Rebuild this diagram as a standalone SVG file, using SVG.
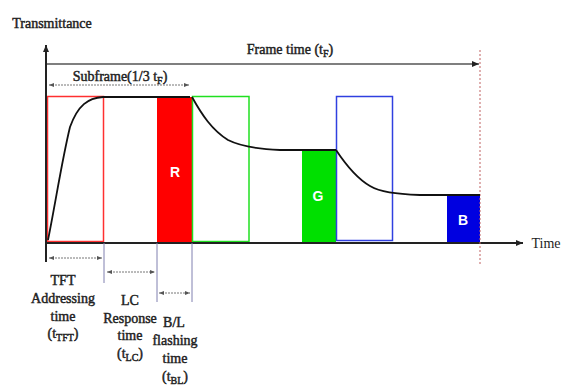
<svg xmlns="http://www.w3.org/2000/svg" width="565" height="391" viewBox="0 0 565 391">
<style>
.t{font-family:"Liberation Serif","Times New Roman",serif;font-weight:normal;fill:#222;stroke:#222;stroke-width:0.45;font-size:14px;text-anchor:middle}
.lbl{font-family:"Liberation Sans",sans-serif;font-weight:bold;fill:#fff;font-size:14px;text-anchor:middle}
.ax{stroke:#222;stroke-width:2;fill:none}
.dim{stroke:#777;stroke-width:1;fill:none;stroke-dasharray:2 1}
.tick{stroke:#8080b0;stroke-width:1}
.curve{stroke:#111;stroke-width:1.8;fill:none}
</style>
<defs>
<marker id="ah" markerWidth="8" markerHeight="8" refX="7" refY="4" orient="auto" markerUnits="userSpaceOnUse"><path d="M0,1 L7,4 L0,7 Z" fill="#222"/></marker>
<marker id="sa" markerWidth="6" markerHeight="6" refX="5" refY="3" orient="auto-start-reverse" markerUnits="userSpaceOnUse"><path d="M0,1 L5,3 L0,5 Z" fill="#555"/></marker>
</defs>
<rect width="565" height="391" fill="#fff"/>
<g id="fills">
<rect x="157" y="97" width="35" height="146" fill="#ff0000"/>
<rect x="302" y="150" width="34" height="93" fill="#00e000"/>
<rect x="447" y="195" width="33" height="48" fill="#0000e0"/>
</g>
<g id="outlines" fill="none" stroke-width="1.5">
<rect x="47.5" y="96.5" width="56" height="145" stroke="#ff3030"/>
<rect x="192.5" y="96.5" width="56.5" height="145" stroke="#20e020"/>
<rect x="336.5" y="96.5" width="56" height="144" stroke="#3040e0"/>
</g>
<g id="connectors">
<line x1="46" y1="262" x2="46" y2="45" class="ax" marker-end="url(#ah)"/>
<line x1="46" y1="243" x2="523" y2="243" class="ax" marker-end="url(#ah)"/>
<line x1="480" y1="50" x2="480" y2="266" stroke="#c06060" stroke-width="1" stroke-dasharray="2 2"/>
<line x1="47" y1="64" x2="479" y2="64" stroke="#555" stroke-width="1.5" marker-end="url(#ah)"/>
<line x1="49" y1="85" x2="189" y2="85" class="dim" marker-start="url(#sa)" marker-end="url(#sa)"/>
<path class="curve" d="M48,240 C56,200 62,160 70,127 C78,105 88,98 103,97 L190,97"/>
<path class="curve" d="M192,97 C202,115 212,130 228,140 C240,146 255,149 280,150 L336,150"/>
<path class="curve" d="M336,150 C346,165 356,178 370,186 C380,192 395,194 420,195 L480,195"/>
<line x1="104" y1="243" x2="104" y2="283" class="tick"/>
<line x1="157" y1="243" x2="157" y2="302" class="tick"/>
<line x1="192" y1="243" x2="192" y2="302" class="tick"/>
<line x1="49" y1="258" x2="102" y2="258" class="dim" marker-start="url(#sa)" marker-end="url(#sa)"/>
<line x1="107" y1="272" x2="155" y2="272" class="dim" marker-start="url(#sa)" marker-end="url(#sa)"/>
<line x1="159" y1="293" x2="190" y2="293" class="dim" marker-start="url(#sa)" marker-end="url(#sa)"/>
</g>
<g id="labels">
<text x="52" y="28" class="t" font-size="13">Transmittance</text>
<text x="290" y="54" class="t">Frame time (t<tspan font-size="10" dy="3">F</tspan><tspan dy="-3">)</tspan></text>
<text x="120" y="81" class="t">Subframe(1/3 t<tspan font-size="10" dy="3">F</tspan><tspan dy="-3">)</tspan></text>
<text x="175" y="177" class="lbl">R</text>
<text x="318" y="201" class="lbl">G</text>
<text x="463" y="225" class="lbl">B</text>
<text x="546" y="248" class="t" style="stroke-width:0">Time</text>
<text x="63" y="285" class="t">TFT</text>
<text x="63" y="303" class="t">Addressing</text>
<text x="63" y="321" class="t">time</text>
<text x="63" y="338" class="t">(t<tspan font-size="10" dy="3">TFT</tspan><tspan dy="-3">)</tspan></text>
<text x="130" y="305" class="t">LC</text>
<text x="130" y="323" class="t">Response</text>
<text x="130" y="340" class="t">time</text>
<text x="130" y="358" class="t">(t<tspan font-size="10" dy="3">LC</tspan><tspan dy="-3">)</tspan></text>
<text x="174" y="327" class="t">B/L</text>
<text x="175" y="345" class="t">flashing</text>
<text x="175" y="363" class="t">time</text>
<text x="175" y="381" class="t">(t<tspan font-size="10" dy="3">BL</tspan><tspan dy="-3">)</tspan></text>
</g>
</svg>
